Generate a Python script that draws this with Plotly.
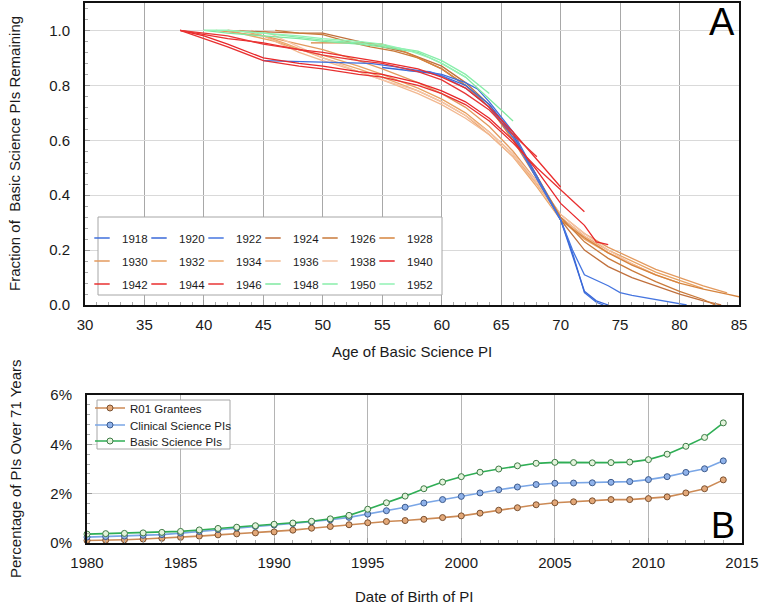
import plotly.graph_objects as go

W, H = 762, 605
FONT = "Liberation Sans, Arial, sans-serif"

# ---------------- Panel A data (age, fraction remaining) ----------------
COHORTS = ["1918", "1920", "1922", "1924", "1926", "1928", "1930", "1932", "1934",
           "1936", "1938", "1940", "1942", "1944", "1946", "1948", "1950", "1952"]

AGE_1918 = [45, 48, 51, 54, 56, 58, 60, 62, 63, 64, 66, 68, 70, 71, 72, 73, 73.6]
FR_1918 = [0.89, 0.887, 0.885, 0.88, 0.868, 0.855, 0.84, 0.81, 0.787, 0.74, 0.63, 0.47, 0.31, 0.19, 0.045, 0.01, 0.0]
AGE_1920 = [55, 57, 59, 60, 62, 64, 66, 68, 70, 71, 72, 73, 74]
FR_1920 = [0.865, 0.855, 0.845, 0.835, 0.80, 0.73, 0.62, 0.46, 0.31, 0.18, 0.05, 0.015, 0.0]
AGE_1922 = [57, 59, 60, 62, 64, 66, 68, 70, 71, 72, 74, 75, 76, 78, 80, 80.6]
FR_1922 = [0.855, 0.85, 0.835, 0.79, 0.72, 0.61, 0.46, 0.31, 0.20, 0.11, 0.07, 0.045, 0.035, 0.02, 0.006, 0.0]
AGE_1924 = [42, 45, 48, 50, 52, 55, 57, 60, 62, 64, 66, 68, 70, 72, 74, 76, 78, 80, 82, 83.5]
FR_1924 = [1.0, 0.995, 0.99, 0.99, 0.97, 0.94, 0.92, 0.87, 0.81, 0.73, 0.62, 0.47, 0.31, 0.20, 0.14, 0.10, 0.07, 0.04, 0.015, 0.0]
AGE_1926 = [46, 48, 50, 52, 54, 56, 58, 60, 62, 64, 66, 68, 70, 72, 74, 76, 78, 80, 82, 83]
FR_1926 = [1.0, 0.99, 0.985, 0.96, 0.94, 0.925, 0.90, 0.86, 0.80, 0.72, 0.61, 0.47, 0.32, 0.23, 0.17, 0.125, 0.085, 0.05, 0.02, 0.0]
AGE_1928 = [49, 51, 53, 55, 57, 60, 62, 64, 66, 68, 70, 72, 74, 76, 78, 80, 82, 84, 85]
FR_1928 = [0.955, 0.955, 0.955, 0.95, 0.92, 0.86, 0.80, 0.72, 0.60, 0.46, 0.31, 0.245, 0.19, 0.145, 0.11, 0.08, 0.058, 0.04, 0.03]
AGE_1930 = [41, 43, 45, 48, 50, 53, 55, 58, 60, 62, 64, 66, 68, 70, 72, 74, 76, 78, 80, 82, 84]
FR_1930 = [1.0, 0.99, 0.98, 0.95, 0.93, 0.89, 0.86, 0.81, 0.77, 0.72, 0.65, 0.56, 0.45, 0.33, 0.26, 0.21, 0.17, 0.13, 0.10, 0.07, 0.044]
AGE_1932 = [42, 44, 46, 48, 50, 53, 55, 58, 60, 62, 64, 66, 68, 70, 72, 74, 76, 78, 80, 82]
FR_1932 = [1.0, 0.98, 0.96, 0.93, 0.91, 0.87, 0.84, 0.79, 0.75, 0.70, 0.63, 0.55, 0.44, 0.32, 0.25, 0.20, 0.16, 0.12, 0.09, 0.06]
AGE_1934 = [43, 45, 47, 50, 53, 55, 58, 60, 62, 64, 66, 68, 70, 72, 74, 76, 78, 80]
FR_1934 = [1.0, 0.98, 0.95, 0.90, 0.86, 0.83, 0.78, 0.74, 0.69, 0.62, 0.54, 0.43, 0.31, 0.24, 0.19, 0.15, 0.11, 0.08]
AGE_1936 = [44, 46, 48, 50, 53, 55, 58, 60, 62, 64, 66, 68, 70, 72, 74, 76, 78]
FR_1936 = [1.0, 0.96, 0.92, 0.89, 0.85, 0.82, 0.77, 0.73, 0.68, 0.62, 0.54, 0.44, 0.32, 0.25, 0.19, 0.15, 0.11]
AGE_1938 = [45, 47, 50, 53, 55, 58, 60, 62, 64, 66, 68, 70, 72, 74, 76]
FR_1938 = [1.0, 0.96, 0.90, 0.85, 0.82, 0.78, 0.74, 0.69, 0.63, 0.55, 0.45, 0.33, 0.26, 0.20, 0.15]
AGE_1940 = [38, 40, 42, 45, 48, 50, 53, 55, 58, 60, 62, 64, 66, 68, 70, 72, 73, 74]
FR_1940 = [1.0, 0.98, 0.95, 0.90, 0.88, 0.87, 0.85, 0.84, 0.81, 0.78, 0.74, 0.68, 0.60, 0.49, 0.37, 0.29, 0.23, 0.22]
AGE_1942 = [38, 40, 42, 45, 48, 50, 53, 55, 58, 60, 62, 64, 66, 68, 70, 72]
FR_1942 = [1.0, 0.97, 0.94, 0.89, 0.87, 0.86, 0.84, 0.83, 0.80, 0.77, 0.73, 0.67, 0.59, 0.50, 0.42, 0.34]
AGE_1944 = [38, 40, 42, 45, 48, 50, 53, 55, 58, 60, 62, 64, 66, 68, 70]
FR_1944 = [1.0, 0.985, 0.97, 0.955, 0.93, 0.92, 0.90, 0.885, 0.86, 0.83, 0.79, 0.72, 0.63, 0.53, 0.43]
AGE_1946 = [38, 40, 42, 45, 48, 50, 53, 55, 58, 60, 62, 64, 66, 68]
FR_1946 = [1.0, 0.99, 0.98, 0.95, 0.93, 0.91, 0.89, 0.88, 0.85, 0.82, 0.77, 0.71, 0.62, 0.54]
AGE_1948 = [40, 42, 45, 48, 50, 53, 55, 58, 60, 62, 64, 66]
FR_1948 = [1.0, 0.99, 0.98, 0.97, 0.96, 0.95, 0.94, 0.92, 0.88, 0.83, 0.75, 0.67]
AGE_1950 = [40, 42, 45, 48, 50, 53, 55, 58, 60, 62, 64]
FR_1950 = [1.0, 1.0, 0.99, 0.975, 0.965, 0.955, 0.945, 0.925, 0.89, 0.84, 0.77]
AGE_1952 = [40, 42, 45, 48, 50, 53, 55, 57, 59, 60, 62]
FR_1952 = [1.0, 1.0, 0.99, 0.98, 0.97, 0.96, 0.95, 0.93, 0.90, 0.88, 0.83]

COLORS_A = ["#3f6fdc", "#3a68d8", "#4676e0",
            "#c0703c", "#c97a3a", "#d6843e",
            "#e39a5e", "#e8a262", "#eca86c", "#f2b890", "#f5c4a6",
            "#e8262a", "#e83030", "#ea2c2c", "#e83636",
            "#7fe8a0", "#88eeaa", "#92f2b4"]

# ---------------- Panel B data ----------------
YEARS = list(range(1980, 2015))
R01 = [0.10, 0.11, 0.13, 0.16, 0.19, 0.23, 0.28, 0.33, 0.37, 0.41, 0.45, 0.52, 0.60, 0.67, 0.74,
       0.82, 0.87, 0.91, 0.96, 1.03, 1.10, 1.21, 1.33, 1.43, 1.55, 1.63, 1.67, 1.71, 1.76, 1.76,
       1.80, 1.87, 2.03, 2.20, 2.56]
CLINICAL = [0.24, 0.26, 0.28, 0.31, 0.34, 0.40, 0.47, 0.55, 0.61, 0.67, 0.73, 0.79, 0.86, 0.94, 1.04,
            1.17, 1.31, 1.45, 1.62, 1.76, 1.89, 2.03, 2.16, 2.27, 2.37, 2.42, 2.43, 2.44, 2.46, 2.49,
            2.57, 2.69, 2.86, 3.01, 3.33]
BASIC = [0.36, 0.38, 0.39, 0.41, 0.43, 0.47, 0.53, 0.59, 0.64, 0.70, 0.76, 0.81, 0.88, 0.98, 1.12,
         1.37, 1.63, 1.90, 2.20, 2.47, 2.69, 2.87, 3.00, 3.13, 3.23, 3.27, 3.26, 3.25, 3.26, 3.28,
         3.38, 3.60, 3.92, 4.28, 4.87]
SERIES_B = ["R01 Grantees", "Clinical Science PIs", "Basic Science PIs"]
LINE_B = ["#cc8a55", "#7aa6e6", "#2fae55"]
FILL_B = ["#e3a878", "#8fb2ea", "#e4f4dc"]
EDGE_B = ["#7a5030", "#3c5a8c", "#3d7a45"]
PCT_TICKS = [0, 2, 4, 6]
PCT_LABELS = ["0%", "2%", "4%", "6%"]

ages = [AGE_1918, AGE_1920, AGE_1922, AGE_1924, AGE_1926, AGE_1928, AGE_1930, AGE_1932, AGE_1934,
        AGE_1936, AGE_1938, AGE_1940, AGE_1942, AGE_1944, AGE_1946, AGE_1948, AGE_1950, AGE_1952]
fracs = [FR_1918, FR_1920, FR_1922, FR_1924, FR_1926, FR_1928, FR_1930, FR_1932, FR_1934,
         FR_1936, FR_1938, FR_1940, FR_1942, FR_1944, FR_1946, FR_1948, FR_1950, FR_1952]


def px(x):
    return x / W


def py(y):
    return 1 - y / H


fig = go.Figure()

order = [6, 7, 8, 9, 10, 3, 4, 5, 0, 1, 2, 11, 12, 13, 14, 15, 16, 17]
for i in order:
    fig.add_trace(go.Scatter(x=ages[i], y=fracs[i], mode="lines", name=COHORTS[i],
                             line=dict(color=COLORS_A[i], width=1.3), showlegend=False,
                             legendgroup=COHORTS[i], xaxis="x", yaxis="y"))

# legend: 6 columns x 3 rows, each column its own legend
col_legends = ["legend"] + ["legend%d" % k for k in range(2, 7)]
for i, c in enumerate(COHORTS):
    fig.add_trace(go.Scatter(x=[None], y=[None], mode="markers", name=c,
                             marker=dict(symbol="line-ew", size=11,
                                         line=dict(color=COLORS_A[i], width=1.6)),
                             legend=col_legends[i % 6], legendgroup=c,
                             xaxis="x", yaxis="y"))

b_legends = ["legend7", "legend8", "legend9"]
for k in range(3):
    fig.add_trace(go.Scatter(x=YEARS, y=[R01, CLINICAL, BASIC][k], mode="lines+markers",
                             name=SERIES_B[k], cliponaxis=False,
                             line=dict(color=LINE_B[k], width=1.6),
                             marker=dict(symbol="circle", size=6, color=FILL_B[k],
                                         line=dict(color=EDGE_B[k], width=1)),
                             legend=b_legends[k], xaxis="x2", yaxis="y2"))

axis_common = dict(showline=True, linecolor="#111", linewidth=2, mirror=True,
                   ticks="inside", ticklen=5, tickcolor="#999", automargin=False,
                   tickfont=dict(family=FONT, size=15, color="#1a1a1a"),
                   zeroline=False)

leg_common = dict(bgcolor="rgba(0,0,0,0)", borderwidth=0,
                  font=dict(family=FONT, size=11.5, color="#1a1a1a"),
                  xanchor="left", yanchor="middle")


def ann(text, x, y, size=15, angle=0, color="#1a1a1a"):
    return dict(text=text, x=px(x), y=py(y), xref="paper", yref="paper", showarrow=False,
                xanchor="center", yanchor="middle", textangle=angle,
                font=dict(family=FONT, size=size, color=color))


layout = dict(
    width=W, height=H, margin=dict(l=0, r=0, t=0, b=0, autoexpand=False),
    paper_bgcolor="white", plot_bgcolor="white",
    xaxis=dict(domain=[px(85), px(739)], range=[30, 85], dtick=5, tick0=30,
               showgrid=True, gridcolor="#a8a8a8", gridwidth=1,
               minor=dict(dtick=1, ticks="inside", ticklen=3, tickcolor="#aaa", showgrid=False),
               ticklabelstandoff=5, anchor="y", **axis_common),
    yaxis=dict(domain=[py(305), py(3)], range=[0, 1.1], tickvals=[0, 0.2, 0.4, 0.6, 0.8, 1.0],
               tickformat=".1f", showgrid=True, gridcolor="#d9d9d9", gridwidth=1,
               minor=dict(dtick=0.04, ticks="inside", ticklen=3, tickcolor="#aaa", showgrid=False),
               ticklabelstandoff=10, anchor="x", **axis_common),
    xaxis2=dict(domain=[px(87), px(742)], range=[1980, 2015], dtick=5, tick0=1980,
                showgrid=True, gridcolor="#b4b4b4", gridwidth=1,
                minor=dict(dtick=1, ticks="inside", ticklen=3, tickcolor="#aaa", showgrid=False),
                ticklabelstandoff=5, anchor="y2", **axis_common),
    yaxis2=dict(domain=[py(543), py(395)], range=[0, 6], tickvals=PCT_TICKS, ticktext=PCT_LABELS,
                showgrid=True, gridcolor="#d9d9d9", gridwidth=1,
                minor=dict(dtick=0.4, ticks="inside", ticklen=3, tickcolor="#aaa", showgrid=False),
                ticklabelstandoff=10, anchor="x2", **axis_common),
    shapes=[
        dict(type="rect", xref="paper", yref="paper", x0=px(98), x1=px(442), y0=py(295), y1=py(217),
             fillcolor="white", line=dict(color="#a6a6a6", width=1), layer="above"),
        dict(type="rect", xref="paper", yref="paper", x0=px(97), x1=px(230), y0=py(449), y1=py(400),
             fillcolor="white", line=dict(color="#a6a6a6", width=1), layer="above"),
    ],
    annotations=[
        ann("Fraction of  Basic Science PIs Remaining", 15, 154, angle=-90),
        ann("Age of Basic Science PI", 412, 351),
        ann("Percentage of PIs Over 71 Years", 15, 469, angle=-90),
        ann("Date of Birth of PI", 414, 596),
        ann("A", 722, 22, size=38, color="black"),
        ann("B", 723, 525, size=36, color="black"),
    ],
)

for k, name in enumerate(col_legends):
    layout[name] = dict(orientation="v", tracegroupgap=4,
                        x=px(82 + 57 * k), y=py(261), **leg_common)
rowb = [408, 425, 441]
for k, name in enumerate(b_legends):
    layout[name] = dict(orientation="v", x=px(90), y=py(rowb[k]), **leg_common)

fig.update_layout(**layout)
fig.write_html("out.html", config={"displayModeBar": False},
               post_script="document.body.style.margin='0px';")
